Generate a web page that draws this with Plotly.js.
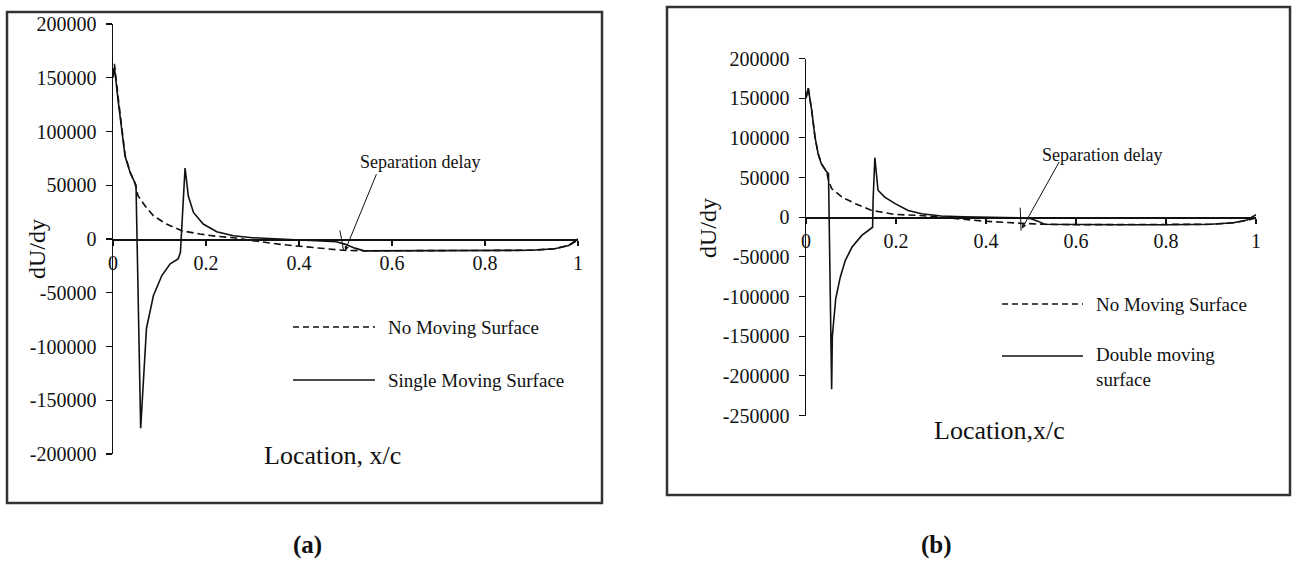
<!DOCTYPE html>
<html>
<head>
<meta charset="utf-8">
<script src="https://cdn.plot.ly/plotly-3.0.1.min.js"></script>
<style>html,body{margin:0;padding:0;background:#fff;}#chart{width:1292px;height:564px;}</style>
</head>
<body>
<div id="chart"></div>
<script>
// ---------- Panel (a) data ----------
const xNoA = [0, 0.003, 0.011, 0.019, 0.026, 0.037, 0.047, 0.054, 0.069, 0.087, 0.115, 0.148, 0.187, 0.223, 0.26, 0.30, 0.323, 0.36, 0.395, 0.45, 0.495, 0.55, 0.6, 0.7, 0.8, 0.9, 0.95, 0.98, 1.0];
const yNoA = [152000, 163000, 132000, 100000, 78000, 62000, 52000, 40000, 30800, 21600, 13900, 7700, 4600, 2500, 1200, -1500, -3000, -5000, -6500, -9000, -10500, -11000, -11000, -11000, -11000, -10500, -9000, -6000, -1000];
const xSingle = [0, 0.003, 0.011, 0.019, 0.026, 0.037, 0.047, 0.0495, 0.0595, 0.065, 0.072, 0.087, 0.105, 0.123, 0.14, 0.145, 0.147, 0.151, 0.155, 0.162, 0.173, 0.194, 0.223, 0.259, 0.3, 0.35, 0.4, 0.45, 0.48, 0.5, 0.52, 0.54, 0.6, 0.7, 0.8, 0.9, 0.95, 0.98, 1.0];
const ySingle = [150000, 160000, 129000, 98000, 77000, 61700, 52500, 50000, -176000, -130000, -83000, -52500, -34000, -23000, -18500, -12500, 0, 35000, 66000, 40000, 24700, 13900, 6800, 3000, 1200, 300, -500, -1500, -2500, -5000, -8500, -11000, -11000, -11000, -11000, -10500, -9000, -6000, 0];

// ---------- Panel (b) data ----------
const xNoB = [0, 0.005, 0.0126, 0.02, 0.027, 0.034, 0.046, 0.05, 0.057, 0.08, 0.11, 0.146, 0.198, 0.25, 0.3, 0.322, 0.36, 0.396, 0.47, 0.53, 0.6, 0.7, 0.8, 0.9, 0.95, 0.98, 1.0];
const yNoB = [150000, 163000, 135000, 101000, 80000, 67500, 57000, 46000, 36000, 25300, 17000, 8500, 3400, 2200, 0, -1300, -3000, -5000, -7500, -9000, -9500, -9500, -9500, -9000, -7000, -4000, -1000];
const xDouble = [0, 0.005, 0.0126, 0.02, 0.027, 0.034, 0.046, 0.05, 0.057, 0.0585, 0.066, 0.076, 0.087, 0.102, 0.124, 0.142, 0.148, 0.149, 0.153, 0.16, 0.175, 0.198, 0.227, 0.257, 0.3, 0.35, 0.4, 0.45, 0.48, 0.5, 0.515, 0.53, 0.6, 0.7, 0.8, 0.9, 0.95, 0.98, 1.0];
const yDouble = [150000, 162500, 135000, 101000, 80000, 67500, 57000, 55000, -217000, -150000, -103000, -76000, -55000, -38000, -23000, -14700, -12700, 20000, 75000, 34000, 25300, 17000, 8500, 4300, 1500, 500, 0, -500, -1000, -2000, -5000, -9000, -9500, -9500, -9500, -9000, -7000, -3500, 3000];

// ---------- Tick labels ----------
const xTickVals = [0, 0.2, 0.4, 0.6, 0.8, 1];
const xTickText = ["0", "0.2", "0.4", "0.6", "0.8", "1"];
const yTickValsA = [-200000, -150000, -100000, -50000, 0, 50000, 100000, 150000, 200000];
const yTickTextA = ["-200000", "-150000", "-100000", "-50000", "0", "50000", "100000", "150000", "200000"];
const yTickValsB = [-250000, -200000, -150000, -100000, -50000, 0, 50000, 100000, 150000, 200000];
const yTickTextB = ["-250000", "-200000", "-150000", "-100000", "-50000", "0", "50000", "100000", "150000", "200000"];

const W = 1292, H = 564;
const px = v => v / W;
const py = v => 1 - v / H;
const FONT = "Liberation Serif, Times New Roman, serif";

const domYA = [py(454), py(24)];
const domYB = [py(415.5), py(58.5)];
const posXA = domYA[0] + (domYA[1] - domYA[0]) * (200000 / 400000);
const posXB = domYB[0] + (domYB[1] - domYB[0]) * (250000 / 450000);

const lineStyle = {color: "#111", width: 1.6};
const dashStyle = {color: "#111", width: 1.6, dash: "7px,4px"};

const traces = [
  {x: xNoA, y: yNoA, type: "scatter", mode: "lines", line: dashStyle, xaxis: "x", yaxis: "y", name: "No Moving Surface"},
  {x: xSingle, y: ySingle, type: "scatter", mode: "lines", line: lineStyle, xaxis: "x", yaxis: "y", name: "Single Moving Surface"},
  {x: xNoB, y: yNoB, type: "scatter", mode: "lines", line: dashStyle, xaxis: "x2", yaxis: "y2", name: "No Moving Surface"},
  {x: xDouble, y: yDouble, type: "scatter", mode: "lines", line: lineStyle, xaxis: "x2", yaxis: "y2", name: "Double moving surface"}
];

const axCommon = {
  showgrid: false, zeroline: false, showline: true, linecolor: "#111", linewidth: 1.5,
  ticks: "outside", tickcolor: "#111", tickwidth: 1.3,
  tickfont: {family: FONT, size: 20, color: "#111"}, fixedrange: true
};

function ann(x, y, text, size, extra) {
  return Object.assign({xref: "paper", yref: "paper", x: px(x), y: py(y), text: text, showarrow: false,
    xanchor: "center", yanchor: "middle", font: {family: FONT, size: size, color: "#111"}}, extra || {});
}

const layout = {
  width: W, height: H,
  margin: {l: 0, r: 0, t: 0, b: 0},
  paper_bgcolor: "#fff", plot_bgcolor: "rgba(0,0,0,0)",
  showlegend: false,
  xaxis: Object.assign({}, axCommon, {domain: [px(113), px(578)], range: [0, 1], anchor: "free", position: posXA, tickvals: xTickVals, ticktext: xTickText, ticklen: 5}),
  yaxis: Object.assign({}, axCommon, {domain: domYA, range: [-200000, 200000], anchor: "x", tickvals: yTickValsA, ticktext: yTickTextA, ticklen: 6, ticklabelstandoff: 5}),
  xaxis2: Object.assign({}, axCommon, {domain: [px(806), px(1256)], range: [0, 1], anchor: "free", position: posXB, tickvals: xTickVals, ticktext: xTickText, ticklen: 5}),
  yaxis2: Object.assign({}, axCommon, {domain: domYB, range: [-250000, 200000], anchor: "x2", tickvals: yTickValsB, ticktext: yTickTextB, ticklen: 6, ticklabelstandoff: 5}),
  shapes: [
    {type: "rect", xref: "paper", yref: "paper", x0: px(7), x1: px(602), y0: py(503), y1: py(12), line: {color: "#333", width: 2.5}, layer: "below"},
    {type: "rect", xref: "paper", yref: "paper", x0: px(667), x1: px(1290), y0: py(495), y1: py(7), line: {color: "#333", width: 2.5}, layer: "below"},
    // legend samples (a)
    {type: "line", xref: "paper", yref: "paper", x0: px(293), x1: px(375), y0: py(327), y1: py(327), line: {color: "#111", width: 1.4, dash: "6px,4px"}},
    {type: "line", xref: "paper", yref: "paper", x0: px(293), x1: px(375), y0: py(380), y1: py(380), line: {color: "#111", width: 1.4}},
    // legend samples (b)
    {type: "line", xref: "paper", yref: "paper", x0: px(1002), x1: px(1083), y0: py(304), y1: py(304), line: {color: "#111", width: 1.4, dash: "6px,4px"}},
    {type: "line", xref: "paper", yref: "paper", x0: px(1002), x1: px(1083), y0: py(356), y1: py(356), line: {color: "#111", width: 1.4}},
    // separation markers
    {type: "line", xref: "x", yref: "y", x0: 0.488, x1: 0.496, y0: 8000, y1: -11000, line: {color: "#111", width: 1}},
    {type: "line", xref: "x2", yref: "y2", x0: 0.476, x1: 0.478, y0: 12000, y1: -17000, line: {color: "#111", width: 1}}
  ],
  annotations: [
    ann(37, 249, "dU/dy", 24, {textangle: -90}),
    ann(708, 228, "dU/dy", 24, {textangle: -90}),
    ann(262, 455, "Location, x/c", 26, {xanchor: "left"}),
    ann(932, 430, "Location,x/c", 26, {xanchor: "left"}),
    ann(386, 327, "No Moving Surface", 19, {xanchor: "left"}),
    ann(386, 380, "Single Moving Surface", 19, {xanchor: "left"}),
    ann(1094, 304, "No Moving Surface", 19, {xanchor: "left"}),
    ann(1094, 367, "Double moving<br>surface", 19, {xanchor: "left", align: "left"}),
    ann(420, 162, "Separation delay", 18),
    ann(1102, 155, "Separation delay", 18),
    {xref: "x", yref: "y", x: 0.499, y: -10900, ax: 32, ay: -78, text: "", showarrow: true, arrowhead: 2, arrowsize: 0.9, arrowwidth: 1, arrowcolor: "#111"},
    {xref: "x2", yref: "y2", x: 0.48, y: -14300, ax: 38, ay: -68, text: "", showarrow: true, arrowhead: 2, arrowsize: 0.9, arrowwidth: 1, arrowcolor: "#111"},
    ann(307, 545, "<b>(a)</b>", 25),
    ann(936, 545, "<b>(b)</b>", 25)
  ]
};

Plotly.newPlot("chart", traces, layout, {displayModeBar: false, staticPlot: true});
</script>
</body>
</html>
